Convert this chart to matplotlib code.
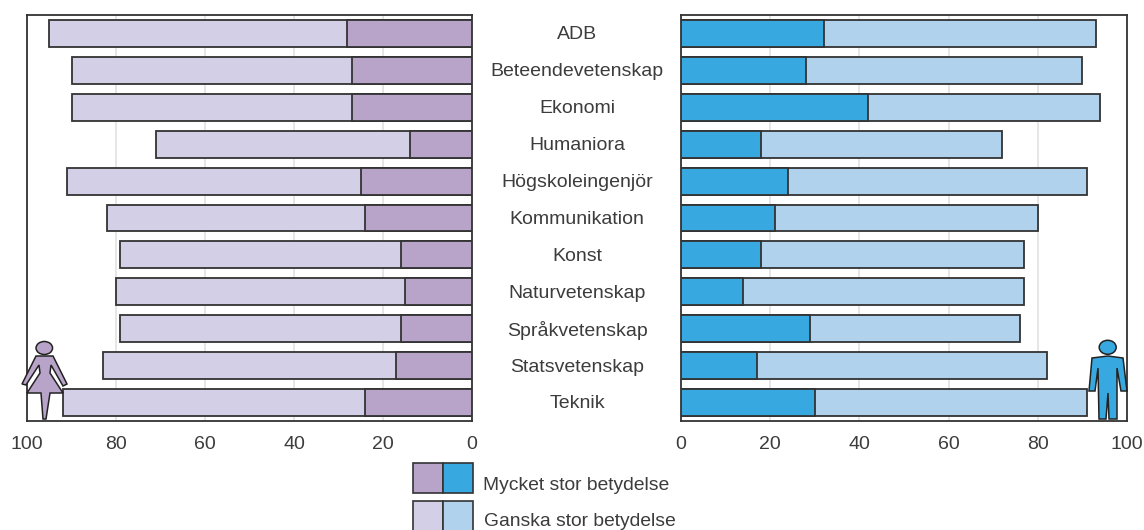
# IMPORT MODULES
import numpy as np
from matplotlib import pyplot as plt
from matplotlib.patches import Ellipse, Polygon, Rectangle
from matplotlib.transforms import blended_transform_factory

# Data
categories = ["ADB", "Beteendevetenskap", "Ekonomi", "Humaniora", "Högskoleingenjör",
              "Kommunikation", "Konst", "Naturvetenskap", "Språkvetenskap",
              "Statsvetenskap", "Teknik"]
women_very = [28, 27, 27, 14, 25, 24, 16, 15, 16, 17, 24]
women_total = [95, 90, 90, 71, 91, 82, 79, 80, 79, 83, 92]
men_very = [32, 28, 42, 18, 24, 21, 18, 14, 29, 17, 30]
men_total = [93, 90, 94, 72, 91, 80, 77, 77, 76, 82, 91]
ticks = [0, 20, 40, 60, 80, 100]
legend_labels = ["Mycket stor betydelse", "Ganska stor betydelse"]

W, H = 1144, 530
DARK = "#333333"
TEXT = "#3c3c3c"
PURPLE_DARK, PURPLE_LIGHT = "#b8a3c9", "#d2cfe6"
BLUE_DARK, BLUE_LIGHT = "#38a9e0", "#b0d2ec"
FS = 14

plt.rcParams["font.family"] = ["Liberation Sans", "DejaVu Sans"]
fig = plt.figure(figsize=(W / 100, H / 100), dpi=100)

# Pixel position in the reference -> figure fraction
fx = lambda px: px / W
fy = lambda py: 1 - py / H
pts = lambda xy: [(fx(x), fy(y)) for x, y in xy]

axL = fig.add_axes([fx(27), fy(421), fx(472 - 27), (421 - 15) / H])
axR = fig.add_axes([fx(681), fy(421), fx(1127 - 681), (421 - 15) / H])

y = np.arange(len(categories))
edge = dict(edgecolor=DARK, linewidth=1.3, height=0.73, zorder=3)

# Women grow to the left, men to the right
axL.barh(y, women_total, color=PURPLE_LIGHT, **edge)
axL.barh(y, women_very, color=PURPLE_DARK, **edge)
axR.barh(y, men_total, color=BLUE_LIGHT, **edge)
axR.barh(y, men_very, color=BLUE_DARK, **edge)

for ax in (axL, axR):
    ax.set_ylim(10.49, -0.49)
    ax.set_yticks([])
    ax.set_xticks(ticks)
    ax.grid(axis="x", color="#e2e2e2", linewidth=1.2, zorder=0)
    ax.set_axisbelow(True)
    ax.tick_params(axis="x", length=0, pad=11, labelsize=FS, labelcolor=TEXT)
    for spine in ax.spines.values():
        spine.set_color(DARK)
        spine.set_linewidth(1.3)
axL.set_xlim(100, 0)
axR.set_xlim(0, 100)

# Category names sit in the gap between the panels
labelTrans = blended_transform_factory(fig.transFigure, axL.transData)
for i, name in enumerate(categories):
    axL.text(fx(577), i + 0.03, name, transform=labelTrans, ha="center", va="center",
             fontsize=FS, color=TEXT, clip_on=False)

# Legend swatches, drawn by hand as one double box per row
swatches = [(463, PURPLE_DARK, BLUE_DARK), (501, PURPLE_LIGHT, BLUE_LIGHT)]
for (top, left, right), label, ty, tx in zip(swatches, legend_labels, [485.5, 522], [483, 484]):
    for x0, col in ((413, left), (443, right)):
        fig.add_artist(Rectangle((fx(x0), fy(top + 30)), 30 / W, 30 / H, facecolor=col,
                                 edgecolor=DARK, linewidth=1.2,
                                 transform=fig.transFigure))
    fig.text(fx(tx), fy(ty), label, ha="left", va="center", fontsize=13.85, color=TEXT)

# Woman icon
fig.add_artist(Ellipse((fx(44.3), fy(348)), 16.5 / W, 13 / H, facecolor=PURPLE_DARK,
                       edgecolor="#222222", linewidth=1.1, transform=fig.transFigure, zorder=5))
woman = [(36, 356), (53, 356), (67, 384), (63, 386), (51, 365), (50, 373), (63, 393), (50, 393),
         (46, 419), (43, 419), (41, 393), (27, 393), (40, 373), (39, 365), (26, 385), (22, 384)]
fig.add_artist(Polygon(pts(woman), closed=True, facecolor=PURPLE_DARK, edgecolor="#222222",
                       linewidth=1.1, transform=fig.transFigure, zorder=5))

# Man icon
fig.add_artist(Ellipse((fx(1107.7), fy(347.3)), 17 / W, 14 / H, facecolor=BLUE_DARK,
                       edgecolor="#222222", linewidth=1.1, transform=fig.transFigure, zorder=5))
man = [(1092, 358), (1108, 356), (1123, 358), (1127, 391), (1121, 391), (1117, 368),
       (1117, 419), (1109, 419), (1108, 393), (1106, 419), (1099, 419), (1098, 368),
       (1095, 391), (1089, 391)]
fig.add_artist(Polygon(pts(man), closed=True, facecolor=BLUE_DARK, edgecolor="#222222",
                       linewidth=1.1, transform=fig.transFigure, zorder=5))

plt.savefig("out.png", dpi=100)
